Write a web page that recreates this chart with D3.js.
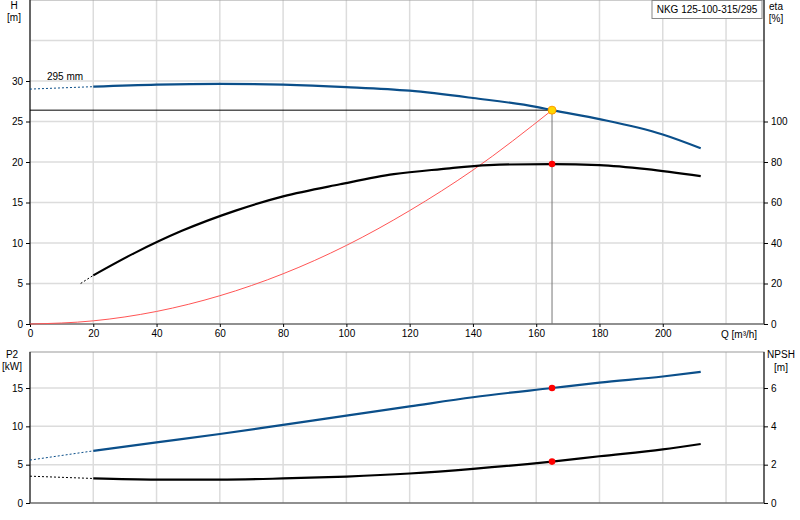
<!DOCTYPE html>
<html><head><meta charset="utf-8">
<script src="https://cdn.jsdelivr.net/npm/d3@7"></script>
<style>body{margin:0;background:#fff}text{font-family:"Liberation Sans",Arial,sans-serif;font-size:10px;fill:#000}</style>
</head><body>
<script>
// pump curve data
const headQ = [0, 20, 40, 60, 80, 100, 120, 140, 160, 165, 180, 200, 212];
const headH = [29.0, 29.3, 29.55, 29.65, 29.55, 29.25, 28.8, 27.9, 26.8, 26.4, 25.3, 23.4, 21.7];
const etaQ = [16, 20, 33, 48, 65, 80, 98, 115, 130, 145, 165, 180, 195, 212];
const etaV = [20, 24, 35, 46, 56, 63, 69, 74, 76.5, 78.5, 79, 78.5, 76.5, 73];
const sysQ = [0, 20, 40, 60, 80, 100, 120, 140, 165];
const sysH = [0, 0.39, 1.55, 3.49, 6.2, 9.7, 14, 19, 26.4];
const p2Q = [0, 20, 40, 60, 80, 100, 120, 140, 165, 180, 200, 212];
const p2V = [5.6, 6.8, 7.9, 9.0, 10.2, 11.4, 12.6, 13.8, 15.0, 15.7, 16.5, 17.1];
const npQ = [0, 20, 40, 60, 80, 100, 120, 140, 165, 180, 200, 212];
const npV = [1.4, 1.28, 1.22, 1.22, 1.28, 1.38, 1.54, 1.78, 2.16, 2.44, 2.8, 3.08];
const qTicks = [0, 20, 40, 60, 80, 100, 120, 140, 160, 180, 200];
const hTicks = [0, 5, 10, 15, 20, 25, 30];
const etaTicks = [0, 20, 40, 60, 80, 100];
const p2Ticks = [0, 5, 10, 15];
const npTicks = [0, 2, 4, 6];
const duty = { q: 165, h: 26.4, eta: 79, p2: 15.0, np: 2.16 };

const svg = d3.select("body").append("svg").attr("width", 800).attr("height", 520);
const x = d3.scaleLinear().domain([0, 232]).range([30, 764]);
const y = d3.scaleLinear().domain([0, 40]).range([324, 0]);
const yEta = d3.scaleLinear().domain([0, 160]).range([324, 0]);
const yP = d3.scaleLinear().domain([0, 19.7]).range([503, 352]);
const yN = d3.scaleLinear().domain([0, 7.88]).range([503, 352]);
const gridCol = "#dcdcdc";

function panel(top, bot, ys, yTicks) {
  const g = svg.append("g");
  g.selectAll(".vx").data(d3.range(20, 232, 20)).join("line")
    .attr("x1", d => x(d)).attr("x2", d => x(d)).attr("y1", top).attr("y2", bot)
    .attr("stroke", gridCol).attr("stroke-width", 1.5);
  g.selectAll(".hy").data(yTicks).join("line")
    .attr("x1", 30).attr("x2", 764).attr("y1", d => ys(d)).attr("y2", d => ys(d))
    .attr("stroke", gridCol).attr("stroke-width", 1.5);
  g.append("rect").attr("x", 30).attr("y", top).attr("width", 734).attr("height", bot - top)
    .attr("fill", "none").attr("stroke", "#999");
  g.append("line").attr("x1", 30).attr("x2", 30).attr("y1", top).attr("y2", bot).attr("stroke", "#000");
  g.append("line").attr("x1", 764).attr("x2", 764).attr("y1", top).attr("y2", bot).attr("stroke", "#000");
  g.append("line").attr("x1", 30).attr("x2", 764).attr("y1", bot).attr("y2", bot).attr("stroke", "#555");
}
panel(0, 324, y, [5, 10, 15, 20, 25, 30, 35]);
panel(352, 503, yP, [5, 10, 15]);

// axes
svg.append("g").attr("transform", "translate(30,0)").call(d3.axisLeft(y).tickValues(hTicks).tickSize(4)).call(a => a.select(".domain").remove());
svg.append("g").attr("transform", "translate(764,0)").call(d3.axisRight(yEta).tickValues(etaTicks).tickSize(4)).call(a => a.select(".domain").remove());
svg.append("g").attr("transform", "translate(0,324)").call(d3.axisBottom(x).tickValues(qTicks).tickSize(3)).call(a => a.select(".domain").remove());
svg.append("g").attr("transform", "translate(30,0)").call(d3.axisLeft(yP).tickValues(p2Ticks).tickSize(4)).call(a => a.select(".domain").remove());
svg.append("g").attr("transform", "translate(764,0)").call(d3.axisRight(yN).tickValues(npTicks).tickSize(4)).call(a => a.select(".domain").remove());
svg.selectAll(".tick text").style("font-family", "Liberation Sans, Arial, sans-serif").style("font-size", "10px");

const lbl = (t, px, py, anchor) => svg.append("text").attr("x", px).attr("y", py).attr("text-anchor", anchor || "middle").text(t);
lbl("H", 14, 9); lbl("[m]", 14, 21);
lbl("eta", 776, 10); lbl("[%]", 776, 22);
lbl("P2", 12, 358); lbl("[kW]", 12, 370);
lbl("NPSH", 781, 358); lbl("[m]", 781, 371);
lbl("Q [m³/h]", 721, 338, "start");
lbl("295 mm", 47, 80, "start");
svg.append("rect").attr("x", 652).attr("y", 0.5).attr("width", 110).attr("height", 18).attr("fill", "#fff").attr("stroke", "#888");
lbl("NKG 125-100-315/295", 707, 13);

function curve(qs, vs, ys, color, w, splitAt) {
  const pts = qs.map((q, i) => [q, vs[i]]);
  const line = d3.line().x(d => x(d[0])).y(d => ys(d[1])).curve(d3.curveMonotoneX);
  const dashPts = pts.filter(d => d[0] <= splitAt);
  const solid = pts.filter(d => d[0] >= splitAt);
  if (dashPts.length > 1) svg.append("path").attr("d", line(dashPts)).attr("fill", "none").attr("stroke", color).attr("stroke-width", 1).attr("stroke-dasharray", "2,2");
  svg.append("path").attr("d", line(solid)).attr("fill", "none").attr("stroke", color).attr("stroke-width", w);
}
// system curve
svg.append("path").attr("d", d3.line().x(d => x(d)).y((d, i) => y(sysH[i])).curve(d3.curveMonotoneX)(sysQ))
  .attr("fill", "none").attr("stroke", "#f55").attr("stroke-width", 1);
// duty lines
svg.append("line").attr("x1", 30).attr("x2", x(duty.q)).attr("y1", y(duty.h)).attr("y2", y(duty.h)).attr("stroke", "#000");
svg.append("line").attr("x1", x(duty.q)).attr("x2", x(duty.q)).attr("y1", y(duty.h)).attr("y2", 324).attr("stroke", "#777");

curve(headQ, headH, y, "#0b4f8a", 2.2, 20);
curve(etaQ, etaV, yEta, "#000", 2.2, 20);
curve(p2Q, p2V, yP, "#0b4f8a", 2.2, 20);
curve(npQ, npV, yN, "#000", 2.2, 20);

svg.append("circle").attr("cx", x(duty.q)).attr("cy", y(duty.h)).attr("r", 4).attr("fill", "#ffd700").attr("stroke", "#f90");
[[yEta, duty.eta], [yP, duty.p2], [yN, duty.np]].forEach(([s, v]) =>
  svg.append("circle").attr("cx", x(duty.q)).attr("cy", s(v)).attr("r", 3.3).attr("fill", "#f00"));
</script>
</body></html>
